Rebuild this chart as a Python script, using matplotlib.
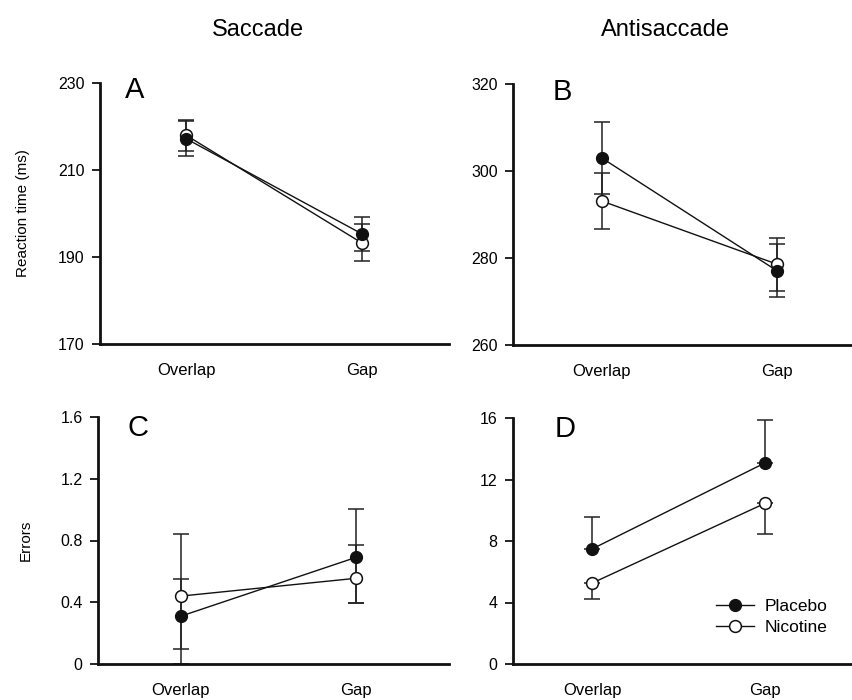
import matplotlib
matplotlib.use("Agg")
import matplotlib.pyplot as plt
from matplotlib.lines import Line2D

plt.rcParams['font.family'] = ['Liberation Sans', 'DejaVu Sans']

# ---------------- data ----------------
conditions = ["Overlap", "Gap"]
series_names = ["Placebo", "Nicotine"]

# Panel A: saccade reaction time (ms)
a_placebo = [217.2, 195.3]
a_placebo_lo = [4.0, 4.0]
a_placebo_hi = [4.0, 4.0]
a_nicotine = [218.0, 193.2]
a_nicotine_lo = [3.6, 4.2]
a_nicotine_hi = [3.5, 4.3]

# Panel B: antisaccade reaction time (ms)
b_placebo = [303.0, 277.1]
b_placebo_lo = [8.3, 6.1]
b_placebo_hi = [8.3, 6.1]
b_nicotine = [293.1, 278.6]
b_nicotine_lo = [6.5, 6.1]
b_nicotine_hi = [6.5, 6.1]

# Panel C: saccade errors
c_placebo = [0.31, 0.69]
c_placebo_lo = [0.21, 0.295]
c_placebo_hi = [0.24, 0.316]
c_nicotine = [0.44, 0.555]
c_nicotine_lo = [0.44, 0.16]
c_nicotine_hi = [0.405, 0.215]

# Panel D: antisaccade errors
d_placebo = [7.48, 13.08]
d_placebo_lo = [0.0, 0.0]
d_placebo_hi = [2.06, 2.79]
d_nicotine = [5.26, 10.45]
d_nicotine_lo = [1.02, 2.02]
d_nicotine_hi = [0.0, 0.0]

a_ticks = [170, 190, 210, 230]
b_ticks = [260, 280, 300, 320]
c_ticks = [0, 0.4, 0.8, 1.2, 1.6]
c_ticklabels = ["0", "0.4", "0.8", "1.2", "1.6"]
d_ticks = [0, 4, 8, 12, 16]

# ---------------- layout ----------------
W, H = 852, 700
fig = plt.figure(figsize=(W / 100, H / 100), dpi=100)


def px_axes(left, right, top, bottom):
    return fig.add_axes([left / W, 1 - bottom / H, (right - left) / W, (bottom - top) / H])


axA = px_axes(100, 449, 83, 344)
axB = px_axes(513, 852, 84, 345)
axC = px_axes(98, 449, 417, 664)
axD = px_axes(513, 852, 418, 664)

x = list(range(len(conditions)))

panels = [
    (axA, a_placebo, a_placebo_lo, a_placebo_hi, a_nicotine, a_nicotine_lo, a_nicotine_hi,
     (170, 230), a_ticks, [str(t) for t in a_ticks], (-0.489, 1.494), "A", (0.072, 0.973)),
    (axB, b_placebo, b_placebo_lo, b_placebo_hi, b_nicotine, b_nicotine_lo, b_nicotine_hi,
     (260, 320), b_ticks, [str(t) for t in b_ticks], (-0.507, 1.430), "B", (0.118, 0.97)),
    (axC, c_placebo, c_placebo_lo, c_placebo_hi, c_nicotine, c_nicotine_lo, c_nicotine_hi,
     (0, 1.6), c_ticks, c_ticklabels, (-0.475, 1.534), "C", (0.083, 0.955)),
    (axD, d_placebo, d_placebo_lo, d_placebo_hi, d_nicotine, d_nicotine_lo, d_nicotine_hi,
     (0, 16), d_ticks, [str(t) for t in d_ticks], (-0.457, 1.503), "D", (0.124, 0.955)),
]

err_kw = dict(fmt='none', ecolor='#222222', elinewidth=1.1, capsize=6, capthick=1.1)

for (ax, pl, pl_lo, pl_hi, ni, ni_lo, ni_hi, ylim, ticks, ticklabels, xlim, letter, lpos) in panels:
    ax.errorbar(x, ni, yerr=[ni_lo, ni_hi], zorder=2, **err_kw)
    ax.errorbar(x, pl, yerr=[pl_lo, pl_hi], zorder=2, **err_kw)
    ax.plot(x, ni, color='#111111', lw=1.0, marker='o', markersize=8.5,
            markerfacecolor='white', markeredgecolor='#111111', markeredgewidth=1.1, zorder=3)
    ax.plot(x, pl, color='#111111', lw=1.0, marker='o', markersize=8.5,
            markerfacecolor='#111111', markeredgecolor='#111111', zorder=4)
    ax.set_ylim(*ylim)
    ax.set_xlim(*xlim)
    ax.set_yticks(ticks)
    ax.set_yticklabels(ticklabels, fontsize=11.5)
    ax.set_xticks(x)
    ax.set_xticklabels(conditions, fontsize=12)
    ax.tick_params(axis='x', length=0, pad=14)
    ax.tick_params(axis='y', direction='out', length=6, width=1.2, pad=5)
    for s in ['top', 'right']:
        ax.spines[s].set_visible(False)
    for s in ['left', 'bottom']:
        ax.spines[s].set_linewidth(2.0)
        ax.spines[s].set_color('#111111')
    ax.set_facecolor('none')
    ax.text(lpos[0], lpos[1], letter, transform=ax.transAxes, fontsize=21,
            ha='left', va='center')

axA.set_ylabel("Reaction time (ms)", fontsize=11, labelpad=20)
axC.set_ylabel("Errors", fontsize=11, labelpad=20)

fig.text(258 / W, 1 - 30 / H, "Saccade", fontsize=17, ha='center', va='center')
fig.text(665 / W, 1 - 30 / H, "Antisaccade", fontsize=17, ha='center', va='center')

handles = [
    Line2D([], [], color='#111111', lw=1.0, marker='o', markersize=8.5,
           markerfacecolor='#111111', markeredgecolor='#111111'),
    Line2D([], [], color='#111111', lw=1.0, marker='o', markersize=8.5,
           markerfacecolor='white', markeredgecolor='#111111', markeredgewidth=1.1),
]
fig.legend(handles, series_names, loc='center left', bbox_to_anchor=(716 / W, 1 - 617 / H),
           frameon=False, fontsize=12.5, handlelength=2.2, handletextpad=0.6,
           labelspacing=0.35, borderpad=0, borderaxespad=0)

fig.savefig("out.png", dpi=100)
